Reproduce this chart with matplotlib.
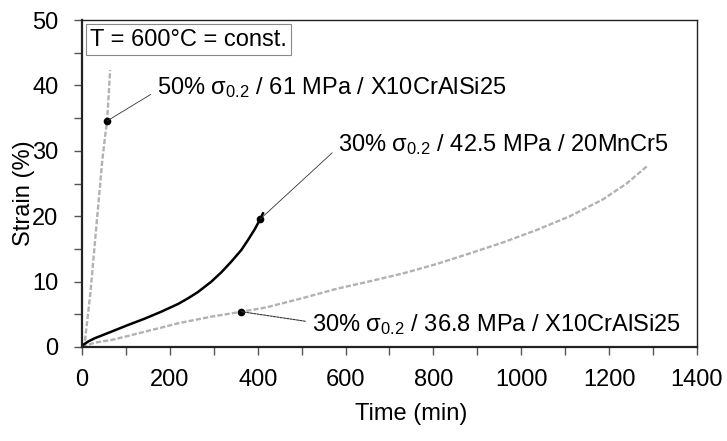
import matplotlib
matplotlib.use("Agg")
import matplotlib.pyplot as plt
from matplotlib.ticker import MultipleLocator

plt.rcParams['font.family'] = ['Liberation Sans', 'DejaVu Sans']
plt.rcParams['mathtext.fontset'] = 'custom'
plt.rcParams['mathtext.rm'] = 'Liberation Sans'
plt.rcParams['mathtext.it'] = 'Liberation Sans'

# 50% sigma_0.2 / 61 MPa / X10CrAlSi25
t_61 = [0, 2.3, 6.1, 12.1, 19, 25.8, 32.6, 39.5, 46.3, 51.5, 57, 61, 64]
eps_61 = [0, 0.05, 0.56, 4.13, 8.2, 13.3, 18.4, 23.5, 28.6, 31.65, 34.56, 38.8, 42.35]
mark_61 = (57, 34.56)

# 30% sigma_0.2 / 42.5 MPa / 20MnCr5
t_425 = [0, 2.3, 13.7, 28.8, 66.8, 104.7, 142.7, 180.6, 218.5, 241.3, 264.1,
         294.4, 317.2, 339.9, 362.7, 377.9, 393.1, 405.9, 412]
eps_425 = [0, 0.31, 0.82, 1.33, 2.34, 3.36, 4.33, 5.40, 6.57, 7.44, 8.41,
           9.99, 11.42, 13.05, 14.83, 16.36, 17.99, 19.57, 20.44]
mark_425 = (405.9, 19.57)

# 30% sigma_0.2 / 36.8 MPa / X10CrAlSi25
t_368 = [0, 28.8, 66.8, 104.7, 142.7, 180.6, 218.5, 256.5, 294.4, 332.3, 362.7,
         408.2, 428, 503.8, 579.7, 655.6, 731.4, 807.4, 883.2, 959, 1035,
         1110.9, 1186.7, 1239.9, 1289]
eps_368 = [0, 0.66, 1.07, 1.68, 2.34, 2.96, 3.62, 4.13, 4.64, 5.05, 5.40,
           5.91, 6.2, 7.5, 8.9, 10.05, 11.26, 12.69, 14.32, 16.0, 17.89,
           20.0, 22.6, 25.0, 27.8]
mark_368 = (362.7, 5.40)

labels = [r'50% σ$_{0.2}$ / 61 MPa / X10CrAlSi25',
          r'30% σ$_{0.2}$ / 42.5 MPa / 20MnCr5',
          r'30% σ$_{0.2}$ / 36.8 MPa / X10CrAlSi25']

fig = plt.figure(figsize=(7.27, 4.41), dpi=100)
ax = fig.add_axes([0.1128, 0.2132, 0.8459, 0.7414])

grey = '#b2b2b2'
ax.plot(t_61, eps_61, color=grey, lw=1.7, dashes=(2.2, 0.9))
ax.plot(t_368, eps_368, color=grey, lw=1.7, dashes=(2.2, 0.9))
ax.plot(t_425, eps_425, color='black', lw=1.8, solid_joinstyle='round')

for m in (mark_61, mark_425, mark_368):
    ax.plot(m[0], m[1], 'o', color='black', ms=4.5)

fs = 17
ax.annotate(labels[0], xy=mark_61, xytext=(171, 39.6), fontsize=fs,
            va='center', ha='left',
            arrowprops=dict(arrowstyle='-', lw=0.6, color='#333333',
                            relpos=(0, 0.4), shrinkA=3, shrinkB=0))
ax.annotate(labels[1], xy=mark_425, xytext=(583, 30.9), fontsize=fs,
            va='center', ha='left',
            arrowprops=dict(arrowstyle='-', lw=0.6, color='#333333',
                            relpos=(0, 0.4), shrinkA=3, shrinkB=0))
ax.annotate(labels[2], xy=mark_368, xytext=(524, 3.4), fontsize=fs,
            va='center', ha='left',
            arrowprops=dict(arrowstyle='-', lw=0.8, color='#333333',
                            linestyle=(0, (2, 1)), relpos=(0, 0.6),
                            shrinkA=3, shrinkB=0))

ax.text(0.013, 0.94, 'T = 600°C = const.', transform=ax.transAxes,
        fontsize=fs, va='center', ha='left',
        bbox=dict(boxstyle='square,pad=0.18', fc='white', ec='#888888', lw=0.8))

ax.set_xlim(0, 1400)
ax.set_ylim(0, 50)
ax.xaxis.set_major_locator(MultipleLocator(200))
ax.xaxis.set_minor_locator(MultipleLocator(100))
ax.yaxis.set_major_locator(MultipleLocator(10))
ax.yaxis.set_minor_locator(MultipleLocator(5))
ax.tick_params(which='both', direction='out', length=6, width=1, color='#555555')
ax.tick_params(axis='x', which='major', pad=10, labelsize=fs)
ax.tick_params(axis='y', which='major', pad=11, labelsize=fs)

for s in ax.spines.values():
    s.set_color('#222222')
    s.set_linewidth(1.0)
ax.spines['left'].set_linewidth(1.6)
ax.spines['bottom'].set_linewidth(1.6)

ax.set_xlabel('Time (min)', fontsize=fs)
ax.set_ylabel('Strain (%)', fontsize=fs)
ax.xaxis.set_label_coords(0.535, -0.171)
ax.yaxis.set_label_coords(-0.077, 0.47)

plt.savefig('out.png', dpi=100)
